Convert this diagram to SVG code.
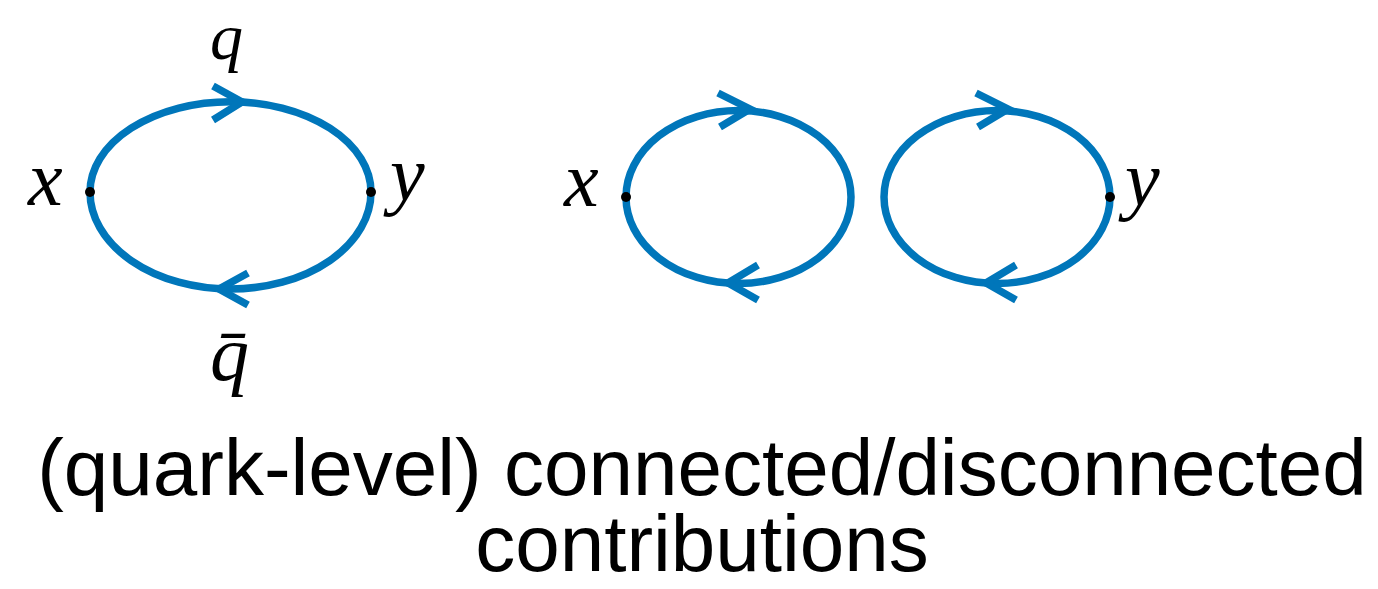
<svg xmlns="http://www.w3.org/2000/svg" width="1378" height="589" viewBox="0 0 1378 589">
<style>
.line{fill:none;stroke:#0076BA;stroke-width:7.5;}
.arrow{fill:none;stroke:#0076BA;stroke-width:7.5;stroke-linejoin:miter;stroke-linecap:butt;}
.dot{fill:#000;}
.math{font-family:"Liberation Serif","DejaVu Serif",serif;font-style:italic;font-size:78px;fill:#000;}
.small{font-size:66px;}
.cap{font-family:"Liberation Sans",Arial,sans-serif;font-size:80px;fill:#000;text-anchor:middle;}
</style>
<rect width="1378" height="589" fill="#fff"/>
<g id="connectors">
  <path id="loop-connected" class="line" d="M90,192 A140.5,90.3 0 0 1 371,192 A140.5,97 0 0 1 90,192 Z"/>
  <polyline class="arrow" points="213,86 242,102 213,120"/>
  <polyline class="arrow" points="248,273 219,289 248,305"/>
  <ellipse id="loop-disc-x" class="line" cx="738.5" cy="197" rx="112.5" ry="86.5"/>
  <polyline class="arrow" points="718,93 750,109 720,127"/>
  <polyline class="arrow" points="758,265 728,283 758,300"/>
  <ellipse id="loop-disc-y" class="line" cx="997" cy="197" rx="113" ry="86.5"/>
  <polyline class="arrow" points="976,93 1008,109 978,127"/>
  <polyline class="arrow" points="1016,265 986,283 1016,300"/>
</g>
<g id="node-x1"><circle class="dot" cx="90" cy="192" r="5"/><text class="math" x="28" y="205">x</text></g>
<g id="node-y1"><circle class="dot" cx="371" cy="192" r="5"/><text class="math" x="390" y="200">y</text></g>
<g id="label-q"><text class="math small" x="210" y="59">q</text></g>
<g id="label-qbar"><text class="math" x="210" y="380">q̄</text></g>
<g id="node-x2"><circle class="dot" cx="626" cy="197" r="5"/><text class="math" x="564" y="206">x</text></g>
<g id="node-y2"><circle class="dot" cx="1110" cy="197" r="5"/><text class="math" x="1125" y="205">y</text></g>
<g id="caption">
  <text class="cap" x="702" y="495">(quark-level) connected/disconnected</text>
  <text class="cap" x="702" y="571">contributions</text>
</g>
</svg>
